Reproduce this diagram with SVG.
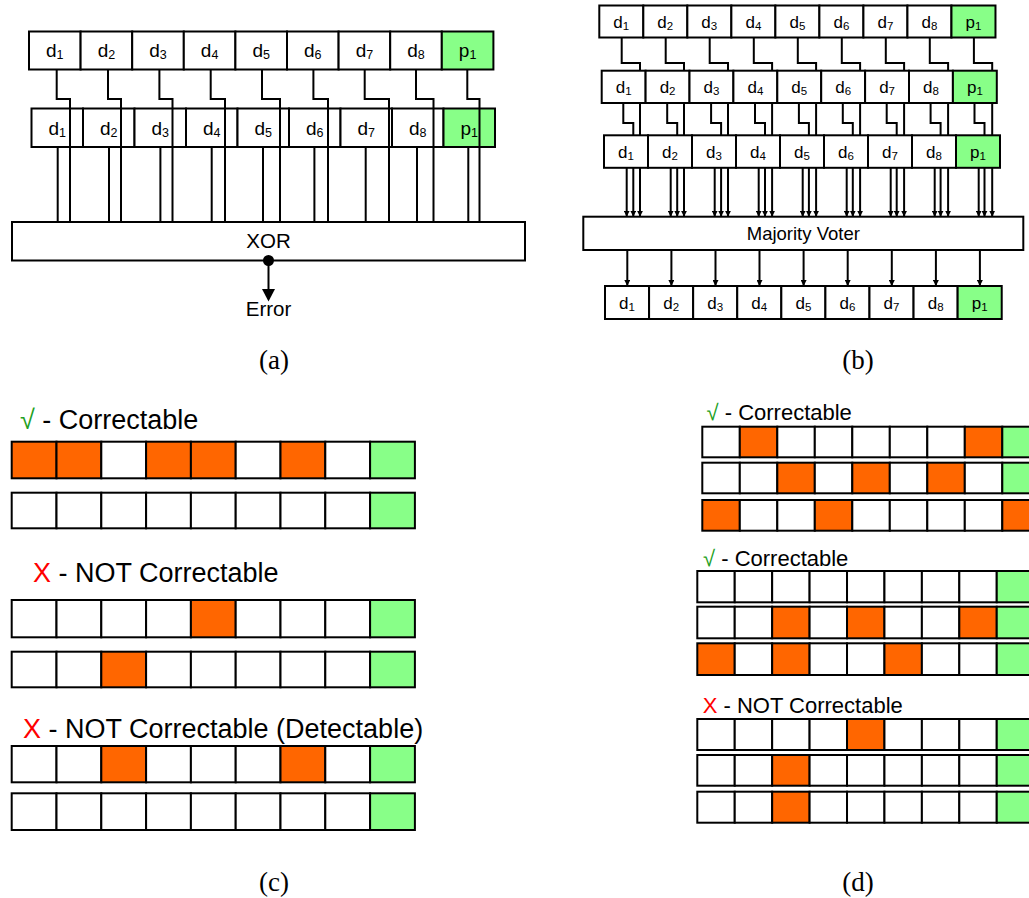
<svg xmlns="http://www.w3.org/2000/svg" width="1029" height="898" viewBox="0 0 1029 898">
<style>
.c{stroke:#000;stroke-width:2;fill:#fff}
.o{stroke:#000;stroke-width:2;fill:#ff6600}
.g{stroke:#000;stroke-width:2;fill:#88ff88}
.box{stroke:#000;stroke-width:2;fill:#fff}
.ln{stroke:#000;stroke-width:2;fill:none}
.la{font-family:"Liberation Sans",Arial,sans-serif;font-size:19px;text-anchor:middle;fill:#000}
.lb{font-family:"Liberation Sans",Arial,sans-serif;font-size:17px;text-anchor:middle;fill:#000}
.sa{font-size:12.5px}
.sb{font-size:11.5px}
.t{font-family:"Liberation Sans",Arial,sans-serif;fill:#000}
.cap{font-family:"Liberation Serif","Times New Roman",serif;font-size:27px;text-anchor:middle;fill:#000}
.ok{fill:#22a022}
.no{fill:#ff0000}
</style>
<defs>
<marker id="ah" viewBox="0 0 10 10" refX="10" refY="5" markerWidth="6" markerHeight="6" markerUnits="userSpaceOnUse" orient="auto"><path d="M0,0 L10,5 L0,10 z" fill="#000"/></marker>
</defs>

<!-- Panel (a) -->
<g id="a-row1" transform="translate(29,31.5)">
<rect class="c" x="0" y="0" width="51.6" height="38"/><rect class="c" x="51.6" y="0" width="51.6" height="38"/><rect class="c" x="103.2" y="0" width="51.6" height="38"/><rect class="c" x="154.8" y="0" width="51.6" height="38"/><rect class="c" x="206.4" y="0" width="51.6" height="38"/><rect class="c" x="258" y="0" width="51.6" height="38"/><rect class="c" x="309.6" y="0" width="51.6" height="38"/><rect class="c" x="361.2" y="0" width="51.6" height="38"/><rect class="g" x="412.8" y="0" width="51.6" height="38"/>
<text class="la" x="25.8" y="25.5">d<tspan class="sa" dy="2">1</tspan></text>
<text class="la" x="77.4" y="25.5">d<tspan class="sa" dy="2">2</tspan></text>
<text class="la" x="129" y="25.5">d<tspan class="sa" dy="2">3</tspan></text>
<text class="la" x="180.6" y="25.5">d<tspan class="sa" dy="2">4</tspan></text>
<text class="la" x="232.2" y="25.5">d<tspan class="sa" dy="2">5</tspan></text>
<text class="la" x="283.8" y="25.5">d<tspan class="sa" dy="2">6</tspan></text>
<text class="la" x="335.4" y="25.5">d<tspan class="sa" dy="2">7</tspan></text>
<text class="la" x="387" y="25.5">d<tspan class="sa" dy="2">8</tspan></text>
<text class="la" x="438.6" y="25.5">p<tspan class="sa" dy="2">1</tspan></text>
</g>
<g id="a-row2" transform="translate(31.5,108.5)">
<rect class="c" x="0" y="0" width="51.5" height="38.5"/><rect class="c" x="51.5" y="0" width="51.5" height="38.5"/><rect class="c" x="103" y="0" width="51.5" height="38.5"/><rect class="c" x="154.5" y="0" width="51.5" height="38.5"/><rect class="c" x="206" y="0" width="51.5" height="38.5"/><rect class="c" x="257.5" y="0" width="51.5" height="38.5"/><rect class="c" x="309" y="0" width="51.5" height="38.5"/><rect class="c" x="360.5" y="0" width="51.5" height="38.5"/><rect class="g" x="412" y="0" width="51.5" height="38.5"/>
<text class="la" x="25.8" y="26">d<tspan class="sa" dy="2">1</tspan></text>
<text class="la" x="77.3" y="26">d<tspan class="sa" dy="2">2</tspan></text>
<text class="la" x="128.8" y="26">d<tspan class="sa" dy="2">3</tspan></text>
<text class="la" x="180.3" y="26">d<tspan class="sa" dy="2">4</tspan></text>
<text class="la" x="231.8" y="26">d<tspan class="sa" dy="2">5</tspan></text>
<text class="la" x="283.3" y="26">d<tspan class="sa" dy="2">6</tspan></text>
<text class="la" x="334.8" y="26">d<tspan class="sa" dy="2">7</tspan></text>
<text class="la" x="386.3" y="26">d<tspan class="sa" dy="2">8</tspan></text>
<text class="la" x="437.8" y="26">p<tspan class="sa" dy="2">1</tspan></text>
</g>
<g id="a-xor">
<rect class="box" x="12" y="222" width="513" height="38.5"/>
<text class="t" x="268.5" y="247.5" font-size="20.5" text-anchor="middle">XOR</text>
</g>
<g id="a-error">
<text class="t" x="268.5" y="316" font-size="20.5" text-anchor="middle">Error</text>
</g>
<g id="a-connectors">
<path class="ln" d="M56.7 69.5V99H70V222M108 69.5V99H121V222M159.4 69.5V99H172.5V222M210.7 69.5V99H225V222M262 69.5V99H280V222M313.4 69.5V99H328V222M364.7 69.5V99H389V222M416 69.5V99H433.5V222M467.3 69.5V99H479.5V222"/>
<path class="ln" d="M57.7 147V222M109 147V222M160.4 147V222M211.7 147V222M263 147V222M314.4 147V222M365.7 147V222M417 147V222M468.3 147V222"/>
<circle cx="268.5" cy="260.5" r="5.5" fill="#000"/>
<line class="ln" x1="268.5" y1="260.5" x2="268.5" y2="290"/>
<polygon points="262,289 275,289 268.5,301.5" fill="#000"/>
</g>

<!-- Panel (b) -->
<g id="b-row1" transform="translate(599.3,5.5)">
<rect class="c" x="0" y="0" width="44.02" height="32"/><rect class="c" x="44.02" y="0" width="44.02" height="32"/><rect class="c" x="88.04" y="0" width="44.02" height="32"/><rect class="c" x="132.06" y="0" width="44.02" height="32"/><rect class="c" x="176.08" y="0" width="44.02" height="32"/><rect class="c" x="220.1" y="0" width="44.02" height="32"/><rect class="c" x="264.12" y="0" width="44.02" height="32"/><rect class="c" x="308.14" y="0" width="44.02" height="32"/><rect class="g" x="352.16" y="0" width="44.02" height="32"/>
<text class="lb" x="22" y="22">d<tspan class="sb" dy="2">1</tspan></text>
<text class="lb" x="66" y="22">d<tspan class="sb" dy="2">2</tspan></text>
<text class="lb" x="110" y="22">d<tspan class="sb" dy="2">3</tspan></text>
<text class="lb" x="154.1" y="22">d<tspan class="sb" dy="2">4</tspan></text>
<text class="lb" x="198.1" y="22">d<tspan class="sb" dy="2">5</tspan></text>
<text class="lb" x="242.1" y="22">d<tspan class="sb" dy="2">6</tspan></text>
<text class="lb" x="286.1" y="22">d<tspan class="sb" dy="2">7</tspan></text>
<text class="lb" x="330.2" y="22">d<tspan class="sb" dy="2">8</tspan></text>
<text class="lb" x="374.2" y="22">p<tspan class="sb" dy="2">1</tspan></text>
</g>
<g id="b-row2" transform="translate(601.7,70.7)">
<rect class="c" x="0" y="0" width="43.9" height="32.3"/><rect class="c" x="43.9" y="0" width="43.9" height="32.3"/><rect class="c" x="87.8" y="0" width="43.9" height="32.3"/><rect class="c" x="131.7" y="0" width="43.9" height="32.3"/><rect class="c" x="175.6" y="0" width="43.9" height="32.3"/><rect class="c" x="219.5" y="0" width="43.9" height="32.3"/><rect class="c" x="263.4" y="0" width="43.9" height="32.3"/><rect class="c" x="307.3" y="0" width="43.9" height="32.3"/><rect class="g" x="351.2" y="0" width="43.9" height="32.3"/>
<text class="lb" x="22" y="22">d<tspan class="sb" dy="2">1</tspan></text>
<text class="lb" x="65.9" y="22">d<tspan class="sb" dy="2">2</tspan></text>
<text class="lb" x="109.8" y="22">d<tspan class="sb" dy="2">3</tspan></text>
<text class="lb" x="153.7" y="22">d<tspan class="sb" dy="2">4</tspan></text>
<text class="lb" x="197.6" y="22">d<tspan class="sb" dy="2">5</tspan></text>
<text class="lb" x="241.5" y="22">d<tspan class="sb" dy="2">6</tspan></text>
<text class="lb" x="285.4" y="22">d<tspan class="sb" dy="2">7</tspan></text>
<text class="lb" x="329.3" y="22">d<tspan class="sb" dy="2">8</tspan></text>
<text class="lb" x="373.2" y="22">p<tspan class="sb" dy="2">1</tspan></text>
</g>
<g id="b-row3" transform="translate(604,135.3)">
<rect class="c" x="0" y="0" width="44" height="32.5"/><rect class="c" x="44" y="0" width="44" height="32.5"/><rect class="c" x="88" y="0" width="44" height="32.5"/><rect class="c" x="132" y="0" width="44" height="32.5"/><rect class="c" x="176" y="0" width="44" height="32.5"/><rect class="c" x="220" y="0" width="44" height="32.5"/><rect class="c" x="264" y="0" width="44" height="32.5"/><rect class="c" x="308" y="0" width="44" height="32.5"/><rect class="g" x="352" y="0" width="44" height="32.5"/>
<text class="lb" x="22" y="22.3">d<tspan class="sb" dy="2">1</tspan></text>
<text class="lb" x="66" y="22.3">d<tspan class="sb" dy="2">2</tspan></text>
<text class="lb" x="110" y="22.3">d<tspan class="sb" dy="2">3</tspan></text>
<text class="lb" x="154" y="22.3">d<tspan class="sb" dy="2">4</tspan></text>
<text class="lb" x="198" y="22.3">d<tspan class="sb" dy="2">5</tspan></text>
<text class="lb" x="242" y="22.3">d<tspan class="sb" dy="2">6</tspan></text>
<text class="lb" x="286" y="22.3">d<tspan class="sb" dy="2">7</tspan></text>
<text class="lb" x="330" y="22.3">d<tspan class="sb" dy="2">8</tspan></text>
<text class="lb" x="374" y="22.3">p<tspan class="sb" dy="2">1</tspan></text>
</g>
<g id="b-voter">
<rect class="box" x="583.3" y="216.7" width="440" height="33.3"/>
<text class="t" x="803.3" y="240" font-size="18.5" text-anchor="middle">Majority Voter</text>
</g>
<g id="b-row4" transform="translate(605,286)">
<rect class="c" x="0" y="0" width="44.08" height="33"/><rect class="c" x="44.08" y="0" width="44.08" height="33"/><rect class="c" x="88.16" y="0" width="44.08" height="33"/><rect class="c" x="132.24" y="0" width="44.08" height="33"/><rect class="c" x="176.32" y="0" width="44.08" height="33"/><rect class="c" x="220.4" y="0" width="44.08" height="33"/><rect class="c" x="264.48" y="0" width="44.08" height="33"/><rect class="c" x="308.56" y="0" width="44.08" height="33"/><rect class="g" x="352.64" y="0" width="44.08" height="33"/>
<text class="lb" x="22" y="22.5">d<tspan class="sb" dy="2">1</tspan></text>
<text class="lb" x="66.1" y="22.5">d<tspan class="sb" dy="2">2</tspan></text>
<text class="lb" x="110.2" y="22.5">d<tspan class="sb" dy="2">3</tspan></text>
<text class="lb" x="154.3" y="22.5">d<tspan class="sb" dy="2">4</tspan></text>
<text class="lb" x="198.4" y="22.5">d<tspan class="sb" dy="2">5</tspan></text>
<text class="lb" x="242.4" y="22.5">d<tspan class="sb" dy="2">6</tspan></text>
<text class="lb" x="286.5" y="22.5">d<tspan class="sb" dy="2">7</tspan></text>
<text class="lb" x="330.6" y="22.5">d<tspan class="sb" dy="2">8</tspan></text>
<text class="lb" x="374.7" y="22.5">p<tspan class="sb" dy="2">1</tspan></text>
</g>
<g id="b-connectors">
<path class="ln" d="M621.7 37.5V63H640V70.7M665.7 37.5V63H684V70.7M709.7 37.5V63H728V70.7M753.8 37.5V63H772.1V70.7M797.8 37.5V63H816.1V70.7M841.8 37.5V63H860.1V70.7M885.8 37.5V63H904.1V70.7M929.8 37.5V63H948.1V70.7M973.9 37.5V63H992.2V70.7"/>
<path class="ln" d="M623.3 103V123H633.3V135.3M667.2 103V123H677.2V135.3M711.1 103V123H721.1V135.3M755 103V123H765V135.3M798.9 103V123H808.9V135.3M842.8 103V123H852.8V135.3M886.7 103V123H896.7V135.3M930.6 103V123H940.6V135.3M974.5 103V123H984.5V135.3"/>
<path class="ln" d="M640 103V135.3M684 103V135.3M728 103V135.3M772.1 103V135.3M816.1 103V135.3M860.1 103V135.3M904.1 103V135.3M948.1 103V135.3M992.2 103V135.3"/>
<g class="ln" marker-end="url(#ah)" stroke-width="1.5">
<line x1="626.7" y1="167.8" x2="626.7" y2="216.7"/><line x1="633.3" y1="167.8" x2="633.3" y2="216.7"/><line x1="640" y1="167.8" x2="640" y2="216.7"/>
<line x1="670.7" y1="167.8" x2="670.7" y2="216.7"/><line x1="677.2" y1="167.8" x2="677.2" y2="216.7"/><line x1="684" y1="167.8" x2="684" y2="216.7"/>
<line x1="714.7" y1="167.8" x2="714.7" y2="216.7"/><line x1="721.1" y1="167.8" x2="721.1" y2="216.7"/><line x1="728" y1="167.8" x2="728" y2="216.7"/>
<line x1="758.7" y1="167.8" x2="758.7" y2="216.7"/><line x1="765" y1="167.8" x2="765" y2="216.7"/><line x1="772.1" y1="167.8" x2="772.1" y2="216.7"/>
<line x1="802.7" y1="167.8" x2="802.7" y2="216.7"/><line x1="808.9" y1="167.8" x2="808.9" y2="216.7"/><line x1="816.1" y1="167.8" x2="816.1" y2="216.7"/>
<line x1="846.7" y1="167.8" x2="846.7" y2="216.7"/><line x1="852.8" y1="167.8" x2="852.8" y2="216.7"/><line x1="860.1" y1="167.8" x2="860.1" y2="216.7"/>
<line x1="890.7" y1="167.8" x2="890.7" y2="216.7"/><line x1="896.7" y1="167.8" x2="896.7" y2="216.7"/><line x1="904.1" y1="167.8" x2="904.1" y2="216.7"/>
<line x1="934.7" y1="167.8" x2="934.7" y2="216.7"/><line x1="940.6" y1="167.8" x2="940.6" y2="216.7"/><line x1="948.1" y1="167.8" x2="948.1" y2="216.7"/>
<line x1="978.7" y1="167.8" x2="978.7" y2="216.7"/><line x1="984.5" y1="167.8" x2="984.5" y2="216.7"/><line x1="992.2" y1="167.8" x2="992.2" y2="216.7"/>
</g>
<g class="ln" marker-end="url(#ah)" stroke-width="1.5">
<line x1="627.3" y1="250" x2="627.3" y2="286"/><line x1="671.4" y1="250" x2="671.4" y2="286"/><line x1="715.5" y1="250" x2="715.5" y2="286"/><line x1="759.5" y1="250" x2="759.5" y2="286"/><line x1="803.6" y1="250" x2="803.6" y2="286"/><line x1="847.7" y1="250" x2="847.7" y2="286"/><line x1="891.8" y1="250" x2="891.8" y2="286"/><line x1="935.9" y1="250" x2="935.9" y2="286"/><line x1="979.9" y1="250" x2="979.9" y2="286"/>
</g>
</g>

<!-- Panel (c) -->
<g id="c-head1"><text class="t" x="20" y="428.5" font-size="27"><tspan class="ok">√</tspan> - Correctable</text></g>
<g id="c-r1" transform="translate(11.7,441.7)">
<rect class="o" x="0" width="44.8" height="36.6"/><rect class="o" x="44.8" width="44.8" height="36.6"/><rect class="c" x="89.6" width="44.8" height="36.6"/><rect class="o" x="134.4" width="44.8" height="36.6"/><rect class="o" x="179.2" width="44.8" height="36.6"/><rect class="c" x="224" width="44.8" height="36.6"/><rect class="o" x="268.8" width="44.8" height="36.6"/><rect class="c" x="313.6" width="44.8" height="36.6"/><rect class="g" x="358.4" width="44.8" height="36.6"/>
</g>
<g id="c-r2" transform="translate(11.7,492.7)">
<rect class="c" x="0" width="44.8" height="35.6"/><rect class="c" x="44.8" width="44.8" height="35.6"/><rect class="c" x="89.6" width="44.8" height="35.6"/><rect class="c" x="134.4" width="44.8" height="35.6"/><rect class="c" x="179.2" width="44.8" height="35.6"/><rect class="c" x="224" width="44.8" height="35.6"/><rect class="c" x="268.8" width="44.8" height="35.6"/><rect class="c" x="313.6" width="44.8" height="35.6"/><rect class="g" x="358.4" width="44.8" height="35.6"/>
</g>
<g id="c-head2"><text class="t" x="33" y="582.3" font-size="27"><tspan class="no">X</tspan> - NOT Correctable</text></g>
<g id="c-r3" transform="translate(11.7,600)">
<rect class="c" x="0" width="44.8" height="37.3"/><rect class="c" x="44.8" width="44.8" height="37.3"/><rect class="c" x="89.6" width="44.8" height="37.3"/><rect class="c" x="134.4" width="44.8" height="37.3"/><rect class="o" x="179.2" width="44.8" height="37.3"/><rect class="c" x="224" width="44.8" height="37.3"/><rect class="c" x="268.8" width="44.8" height="37.3"/><rect class="c" x="313.6" width="44.8" height="37.3"/><rect class="g" x="358.4" width="44.8" height="37.3"/>
</g>
<g id="c-r4" transform="translate(11.7,651.7)">
<rect class="c" x="0" width="44.8" height="35.6"/><rect class="c" x="44.8" width="44.8" height="35.6"/><rect class="o" x="89.6" width="44.8" height="35.6"/><rect class="c" x="134.4" width="44.8" height="35.6"/><rect class="c" x="179.2" width="44.8" height="35.6"/><rect class="c" x="224" width="44.8" height="35.6"/><rect class="c" x="268.8" width="44.8" height="35.6"/><rect class="c" x="313.6" width="44.8" height="35.6"/><rect class="g" x="358.4" width="44.8" height="35.6"/>
</g>
<g id="c-head3"><text class="t" x="23" y="738.3" font-size="27"><tspan class="no">X</tspan> - NOT Correctable (Detectable)</text></g>
<g id="c-r5" transform="translate(11.7,746)">
<rect class="c" x="0" width="44.8" height="36.3"/><rect class="c" x="44.8" width="44.8" height="36.3"/><rect class="o" x="89.6" width="44.8" height="36.3"/><rect class="c" x="134.4" width="44.8" height="36.3"/><rect class="c" x="179.2" width="44.8" height="36.3"/><rect class="c" x="224" width="44.8" height="36.3"/><rect class="o" x="268.8" width="44.8" height="36.3"/><rect class="c" x="313.6" width="44.8" height="36.3"/><rect class="g" x="358.4" width="44.8" height="36.3"/>
</g>
<g id="c-r6" transform="translate(11.7,793.3)">
<rect class="c" x="0" width="44.8" height="36.7"/><rect class="c" x="44.8" width="44.8" height="36.7"/><rect class="c" x="89.6" width="44.8" height="36.7"/><rect class="c" x="134.4" width="44.8" height="36.7"/><rect class="c" x="179.2" width="44.8" height="36.7"/><rect class="c" x="224" width="44.8" height="36.7"/><rect class="c" x="268.8" width="44.8" height="36.7"/><rect class="c" x="313.6" width="44.8" height="36.7"/><rect class="g" x="358.4" width="44.8" height="36.7"/>
</g>

<!-- Panel (d) -->
<g id="d-head1"><text class="t" x="706.5" y="420" font-size="22"><tspan class="ok">√</tspan> - Correctable</text></g>
<g id="d-r1" transform="translate(702.3,426.7)">
<rect class="c" x="0" width="37.5" height="30.6"/><rect class="o" x="37.5" width="37.5" height="30.6"/><rect class="c" x="75" width="37.5" height="30.6"/><rect class="c" x="112.5" width="37.5" height="30.6"/><rect class="c" x="150" width="37.5" height="30.6"/><rect class="c" x="187.5" width="37.5" height="30.6"/><rect class="c" x="225" width="37.5" height="30.6"/><rect class="o" x="262.5" width="37.5" height="30.6"/><rect class="g" x="300" width="37.5" height="30.6"/>
</g>
<g id="d-r2" transform="translate(702.3,462.7)">
<rect class="c" x="0" width="37.5" height="30.6"/><rect class="c" x="37.5" width="37.5" height="30.6"/><rect class="o" x="75" width="37.5" height="30.6"/><rect class="c" x="112.5" width="37.5" height="30.6"/><rect class="o" x="150" width="37.5" height="30.6"/><rect class="c" x="187.5" width="37.5" height="30.6"/><rect class="o" x="225" width="37.5" height="30.6"/><rect class="c" x="262.5" width="37.5" height="30.6"/><rect class="g" x="300" width="37.5" height="30.6"/>
</g>
<g id="d-r3" transform="translate(702.3,500)">
<rect class="o" x="0" width="37.5" height="30.7"/><rect class="c" x="37.5" width="37.5" height="30.7"/><rect class="c" x="75" width="37.5" height="30.7"/><rect class="o" x="112.5" width="37.5" height="30.7"/><rect class="c" x="150" width="37.5" height="30.7"/><rect class="c" x="187.5" width="37.5" height="30.7"/><rect class="c" x="225" width="37.5" height="30.7"/><rect class="c" x="262.5" width="37.5" height="30.7"/><rect class="o" x="300" width="37.5" height="30.7"/>
</g>
<g id="d-head2"><text class="t" x="703" y="566" font-size="22"><tspan class="ok">√</tspan> - Correctable</text></g>
<g id="d-r4" transform="translate(697.3,571)">
<rect class="c" x="0" width="37.43" height="31.3"/><rect class="c" x="37.43" width="37.43" height="31.3"/><rect class="c" x="74.86" width="37.43" height="31.3"/><rect class="c" x="112.29" width="37.43" height="31.3"/><rect class="c" x="149.72" width="37.43" height="31.3"/><rect class="c" x="187.15" width="37.43" height="31.3"/><rect class="c" x="224.58" width="37.43" height="31.3"/><rect class="c" x="262.01" width="37.43" height="31.3"/><rect class="g" x="299.44" width="37.43" height="31.3"/>
</g>
<g id="d-r5" transform="translate(697.3,606.7)">
<rect class="c" x="0" width="37.43" height="31.6"/><rect class="c" x="37.43" width="37.43" height="31.6"/><rect class="o" x="74.86" width="37.43" height="31.6"/><rect class="c" x="112.29" width="37.43" height="31.6"/><rect class="o" x="149.72" width="37.43" height="31.6"/><rect class="c" x="187.15" width="37.43" height="31.6"/><rect class="c" x="224.58" width="37.43" height="31.6"/><rect class="o" x="262.01" width="37.43" height="31.6"/><rect class="g" x="299.44" width="37.43" height="31.6"/>
</g>
<g id="d-r6" transform="translate(697.3,643.3)">
<rect class="o" x="0" width="37.43" height="31.7"/><rect class="c" x="37.43" width="37.43" height="31.7"/><rect class="o" x="74.86" width="37.43" height="31.7"/><rect class="c" x="112.29" width="37.43" height="31.7"/><rect class="c" x="149.72" width="37.43" height="31.7"/><rect class="o" x="187.15" width="37.43" height="31.7"/><rect class="c" x="224.58" width="37.43" height="31.7"/><rect class="c" x="262.01" width="37.43" height="31.7"/><rect class="g" x="299.44" width="37.43" height="31.7"/>
</g>
<g id="d-head3"><text class="t" x="702.7" y="712.7" font-size="22"><tspan class="no">X</tspan> - NOT Correctable</text></g>
<g id="d-r7" transform="translate(697.3,719)">
<rect class="c" x="0" width="37.43" height="31"/><rect class="c" x="37.43" width="37.43" height="31"/><rect class="c" x="74.86" width="37.43" height="31"/><rect class="c" x="112.29" width="37.43" height="31"/><rect class="o" x="149.72" width="37.43" height="31"/><rect class="c" x="187.15" width="37.43" height="31"/><rect class="c" x="224.58" width="37.43" height="31"/><rect class="c" x="262.01" width="37.43" height="31"/><rect class="g" x="299.44" width="37.43" height="31"/>
</g>
<g id="d-r8" transform="translate(697.3,755)">
<rect class="c" x="0" width="37.43" height="30.7"/><rect class="c" x="37.43" width="37.43" height="30.7"/><rect class="o" x="74.86" width="37.43" height="30.7"/><rect class="c" x="112.29" width="37.43" height="30.7"/><rect class="c" x="149.72" width="37.43" height="30.7"/><rect class="c" x="187.15" width="37.43" height="30.7"/><rect class="c" x="224.58" width="37.43" height="30.7"/><rect class="c" x="262.01" width="37.43" height="30.7"/><rect class="g" x="299.44" width="37.43" height="30.7"/>
</g>
<g id="d-r9" transform="translate(697.3,791.7)">
<rect class="c" x="0" width="37.43" height="31"/><rect class="c" x="37.43" width="37.43" height="31"/><rect class="o" x="74.86" width="37.43" height="31"/><rect class="c" x="112.29" width="37.43" height="31"/><rect class="c" x="149.72" width="37.43" height="31"/><rect class="c" x="187.15" width="37.43" height="31"/><rect class="c" x="224.58" width="37.43" height="31"/><rect class="c" x="262.01" width="37.43" height="31"/><rect class="g" x="299.44" width="37.43" height="31"/>
</g>

<!-- Captions -->
<text class="cap" x="274" y="369">(a)</text>
<text class="cap" x="858" y="369">(b)</text>
<text class="cap" x="274" y="891">(c)</text>
<text class="cap" x="858" y="891">(d)</text>
</svg>
